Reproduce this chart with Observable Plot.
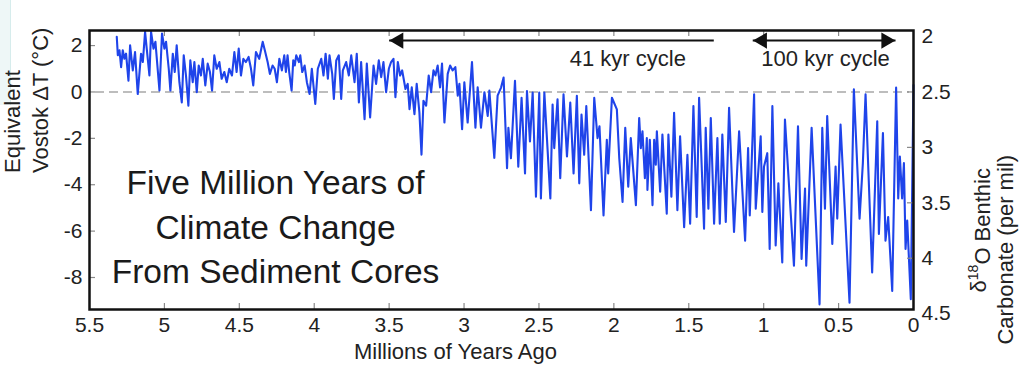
<!DOCTYPE html>
<html><head><meta charset="utf-8">
<script src="https://cdn.jsdelivr.net/npm/d3@7"></script>
<script src="https://cdn.jsdelivr.net/npm/@observablehq/plot@0.6"></script>
<style>body{margin:0;background:#fff}#chart{position:relative;width:1023px;height:387px}#edge{position:absolute;left:0;top:0;width:10px;height:105px;background:#eef7f7;border-right:1px solid #d6ecec}</style>
</head><body><div id="chart"><div id="edge"></div></div>
<script>
// [age (Ma), equivalent Vostok ΔT (°C)]
const earlyPliocene = [[5.318,2.38],[5.311,1.58],[5.300,1.80],[5.289,1.07],[5.278,1.80],[5.267,1.43],[5.256,1.65],[5.240,0.49],[5.229,2.01],[5.211,0.93],[5.196,1.72],[5.178,-0.09],[5.156,1.65],[5.144,1.29],[5.129,2.59],[5.118,1.87],[5.100,0.71],[5.089,2.59],[5.073,1.87],[5.060,2.16],[5.033,0.06],[5.016,2.52],[5.000,1.87],[4.989,2.16],[4.971,1.00],[4.960,0.06],[4.944,1.65],[4.931,0.86],[4.918,2.01],[4.900,0.42],[4.884,-0.45],[4.871,1.58],[4.856,0.71],[4.840,-0.59],[4.827,1.36],[4.811,0.42],[4.800,1.29],[4.784,-0.01],[4.771,1.14],[4.756,0.71],[4.744,1.43],[4.727,0.28],[4.711,1.22],[4.696,0.86],[4.682,0.06],[4.667,1.58],[4.651,1.00],[4.633,1.29],[4.618,0.57],[4.600,0.86],[4.584,0.42],[4.567,1.00],[4.549,0.71],[4.533,1.72],[4.518,0.86],[4.504,1.87],[4.489,0.71],[4.473,1.43],[4.456,1.29],[4.438,1.51],[4.422,1.00],[4.407,0.28],[4.389,1.72],[4.367,1.43],[4.344,2.16],[4.327,1.72],[4.311,1.29],[4.296,0.78],[4.278,1.14],[4.264,1.00],[4.249,0.42],[4.233,1.43],[4.216,0.93],[4.200,1.58],[4.189,0.86],[4.178,1.58],[4.167,0.86],[4.151,0.06],[4.140,1.36],[4.130,1.14]];
const latePliocene = [[4.120,1.58],[4.102,1.29],[4.093,1.58],[4.080,0.86],[4.064,1.14],[4.049,0.42],[4.031,-0.09],[4.016,1.00],[3.993,-0.52],[3.976,1.00],[3.953,1.43],[3.938,0.71],[3.924,1.65],[3.909,0.57],[3.898,1.58],[3.880,0.78],[3.869,-0.30],[3.853,1.36],[3.836,1.58],[3.820,-0.30],[3.809,0.93],[3.787,1.29],[3.769,0.71],[3.753,1.58],[3.731,0.42],[3.716,1.65],[3.702,-0.45],[3.687,1.29],[3.664,-1.17],[3.649,1.22],[3.627,-1.10],[3.604,1.14],[3.587,0.35],[3.569,1.36],[3.553,0.64],[3.538,1.29],[3.520,-0.01],[3.502,1.00],[3.487,1.29],[3.471,1.43],[3.458,-0.23],[3.442,1.29],[3.427,0.71],[3.413,0.93],[3.391,0.13],[3.376,0.35],[3.364,-0.74],[3.349,0.20],[3.331,-0.96],[3.316,0.35],[3.298,-0.88],[3.284,-2.70],[3.271,-0.38],[3.253,-0.59],[3.236,0.71],[3.220,-0.01],[3.204,0.93],[3.191,0.71],[3.176,1.14],[3.160,0.20],[3.147,1.22],[3.131,-1.32],[3.109,0.78],[3.093,1.14],[3.076,0.93],[3.058,1.07],[3.042,-0.16],[3.031,0.35],[3.013,-1.61],[2.998,0.42],[2.976,-1.32],[2.947,1.29],[2.924,-1.54],[2.909,0.20],[2.887,-1.54],[2.864,-0.01],[2.842,-1.03],[2.831,0.06],[2.798,-2.84],[2.776,-0.16]];
const earlyPleistocene = [[2.753,0.19],[2.736,0.62],[2.713,-3.29],[2.704,-1.55],[2.687,-2.86],[2.660,0.48],[2.638,-3.22],[2.616,-0.25],[2.593,-3.51],[2.580,0.04],[2.560,-2.13],[2.542,-0.03],[2.520,-4.52],[2.498,-0.03],[2.487,-4.59],[2.464,-0.03],[2.424,-4.59],[2.409,-0.54],[2.398,-2.42],[2.376,-0.32],[2.358,-3.72],[2.336,-0.10],[2.313,-2.78],[2.291,-0.46],[2.269,-3.51],[2.247,-0.17],[2.231,-3.94],[2.216,-0.97],[2.198,-2.71],[2.184,-0.61],[2.153,-5.10],[2.131,-0.25],[2.109,-1.99],[2.096,-1.48],[2.069,-5.32],[2.047,-2.06],[2.038,-3.51],[2.013,-0.25],[1.980,-0.75],[1.964,-2.86],[1.942,-4.74],[1.924,-1.55],[1.904,-4.09],[1.887,-1.99],[1.853,-4.88],[1.831,-1.12],[1.820,-2.42],[1.809,-1.70],[1.793,-3.72],[1.780,-1.99],[1.776,-4.23],[1.760,-2.06],[1.742,-4.88],[1.731,-2.06],[1.720,-3.14],[1.713,-1.70],[1.691,-4.30],[1.676,-1.84],[1.647,-5.25],[1.636,-1.84],[1.616,-4.52],[1.598,-0.90],[1.576,-5.10],[1.558,-1.91],[1.531,-5.83],[1.509,-2.71],[1.491,-5.68],[1.469,-0.61],[1.447,-5.39],[1.431,-0.25],[1.398,-5.90]];
const latePleistocene = [[1.387,-1.55],[1.369,-5.03],[1.353,-1.12],[1.331,-5.68],[1.309,-1.99],[1.293,-5.68],[1.276,-1.84],[1.253,-5.61],[1.231,-0.68],[1.198,-6.04],[1.164,-1.70],[1.124,-6.41],[1.104,-2.42],[1.093,-5.32],[1.064,-0.10],[1.053,-5.03],[1.020,-1.91],[1.009,-5.17],[0.998,-3.22],[0.976,-2.64],[0.960,-6.77],[0.942,-0.61],[0.920,-6.62],[0.902,-3.94],[0.876,-7.35],[0.858,-1.19],[0.798,-7.49],[0.771,-1.48],[0.747,-7.20],[0.724,-4.16],[0.716,-7.49],[0.680,-1.55],[0.627,-9.16],[0.609,-1.55],[0.591,-5.03],[0.576,-1.04],[0.542,-6.55],[0.520,-3.22],[0.509,-5.46],[0.487,-1.41],[0.427,-9.09],[0.398,0.12],[0.360,-5.46],[0.338,-3.07],[0.320,-0.10],[0.276,-7.78],[0.242,-1.26],[0.231,-6.12],[0.204,-1.77],[0.187,-6.41],[0.169,-5.39],[0.142,-8.58],[0.116,0.19],[0.102,-4.59],[0.091,-2.78],[0.076,-4.59],[0.064,-3.07],[0.053,-6.77],[0.042,-5.54],[0.018,-8.94],[0.000,0.30]];

const xTicks = [5.5, 5, 4.5, 4, 3.5, 3, 2.5, 2, 1.5, 1, 0.5, 0];
const yTicks = [2, 0, -2, -4, -6, -8];
const d18OTicks = [2, 2.5, 3, 3.5, 4, 4.5];
const titleLines = ["Five Million Years of", "Climate Change", "From Sediment Cores"];
const cycleLabels = ["41 kyr cycle", "100 kyr cycle"];
const cycleStart = [3.5, 1.073];   // Ma
const cycleEnd = [1.333, 0.12];     // Ma
const leftHeads = [3.5, 1.073];
const rightHeads = [0.12];

const series = [...earlyPliocene, ...latePliocene, ...earlyPleistocene, ...latePleistocene]
  .map(([age, t]) => ({age, t}));
const dToT = d => (2.5 - d) * 4.78; // δ18O (per mil) -> equivalent ΔT
const FONT = "'Liberation Sans', Arial, sans-serif";
const arrowY = 2.215;

const plot = Plot.plot({
  width: 1023, height: 387,
  marginLeft: 89, marginRight: 110, marginTop: 30, marginBottom: 78,
  x: {domain: [5.5, 0], axis: null},
  y: {domain: [-9.38, 2.65], axis: null},
  style: {fontFamily: FONT, background: "transparent", overflow: "visible", position: "absolute", left: "0px", top: "0px"},
  marks: [
    Plot.ruleY([0], {stroke: "#bdbdbd", strokeWidth: 2, strokeDasharray: "9,5", insetLeft: 6, insetRight: 4}),
    Plot.line(series, {x: "age", y: "t", stroke: "#1f44ea", strokeWidth: 2.1, strokeLinejoin: "round"}),
    // inner ticks
    Plot.tickX(xTicks.slice(1, -1), {x: d => d, insetTop: 273, stroke: "#8a8a8a", strokeWidth: 1.2}),
    Plot.tickX(xTicks.slice(1, -1), {x: d => d, insetBottom: 273, stroke: "#8a8a8a", strokeWidth: 1.2}),
    Plot.tickY(yTicks, {y: d => d, insetRight: 818, stroke: "#8a8a8a", strokeWidth: 1.2}),
    Plot.tickY(d18OTicks.slice(1, -1), {y: d => dToT(d), insetLeft: 818, stroke: "#8a8a8a", strokeWidth: 1.2}),
    Plot.frame({stroke: "#111", strokeWidth: 2.5}),
    // tick labels
    Plot.text(xTicks, {x: d => d, text: d => String(d), frameAnchor: "bottom", lineAnchor: "top", dy: 8, fontSize: 21, fill: "#222"}),
    Plot.text(yTicks, {y: d => d, text: d => String(d), frameAnchor: "left", textAnchor: "end", dx: -7, fontSize: 21, fill: "#222"}),
    Plot.text(d18OTicks, {y: d => dToT(d), text: d => String(d), frameAnchor: "right", textAnchor: "start", dx: 8, fontSize: 21, fill: "#222"}),
    // axis titles
    Plot.text(["Millions of Years Ago"], {text: d => d, frameAnchor: "bottom", dx: -46, dy: 49, fontSize: 22, fill: "#222"}),
    Plot.text(["Equivalent"], {text: d => d, frameAnchor: "left", rotate: -90, dx: -77, dy: 3, fontSize: 22, fill: "#222"}),
    Plot.text(["Vostok ΔT (°C)"], {text: d => d, frameAnchor: "left", rotate: -90, dx: -49, dy: 3, fontSize: 22, fill: "#222"}),
    Plot.text(["δ18O Benthic"], {text: d => d, frameAnchor: "right", rotate: -90, dx: 65, dy: -2, fontSize: 22, fill: "#222"}),
    Plot.text(["Carbonate (per mil)"], {text: d => d, frameAnchor: "right", rotate: -90, dx: 92, dy: -15, fontSize: 22, fill: "#222"}),
    // cycle arrows
    Plot.link(cycleLabels, {x1: (d, i) => cycleStart[i], x2: (d, i) => cycleEnd[i], y1: arrowY, y2: arrowY, stroke: "#111", strokeWidth: 2}),
    Plot.dot(leftHeads, {x: d => d, y: arrowY, symbol: "triangle", r: 6, rotate: -90, dx: 9.5, fill: "#111", stroke: "none"}),
    Plot.dot(rightHeads, {x: d => d, y: arrowY, symbol: "triangle", r: 6, rotate: 90, dx: -9.5, fill: "#111", stroke: "none"}),
    Plot.text(cycleLabels, {x: (d, i) => [1.907, 0.587][i], y: 1.44, text: d => d, fontSize: 22, fill: "#222"}),
    // title
    Plot.text([titleLines.join("\n")], {text: d => d, frameAnchor: "top-left", dx: 186, dy: 194, textAnchor: "middle", lineAnchor: "middle", lineHeight: 1.32, fontSize: 33.5, fill: "#1a1a1a"})
  ]
});

// superscript 18 in δ18O
d3.select(plot).selectAll("text").filter(function() { return this.textContent === "δ18O Benthic"; })
  .each(function() {
    const t = d3.select(this);
    t.text(null);
    t.append("tspan").text("δ");
    t.append("tspan").attr("dy", "-0.55em").attr("font-size", "14").text("18");
    t.append("tspan").attr("dy", "0.55em").text("O Benthic");
  });

document.getElementById("chart").appendChild(plot);
</script></body></html>
